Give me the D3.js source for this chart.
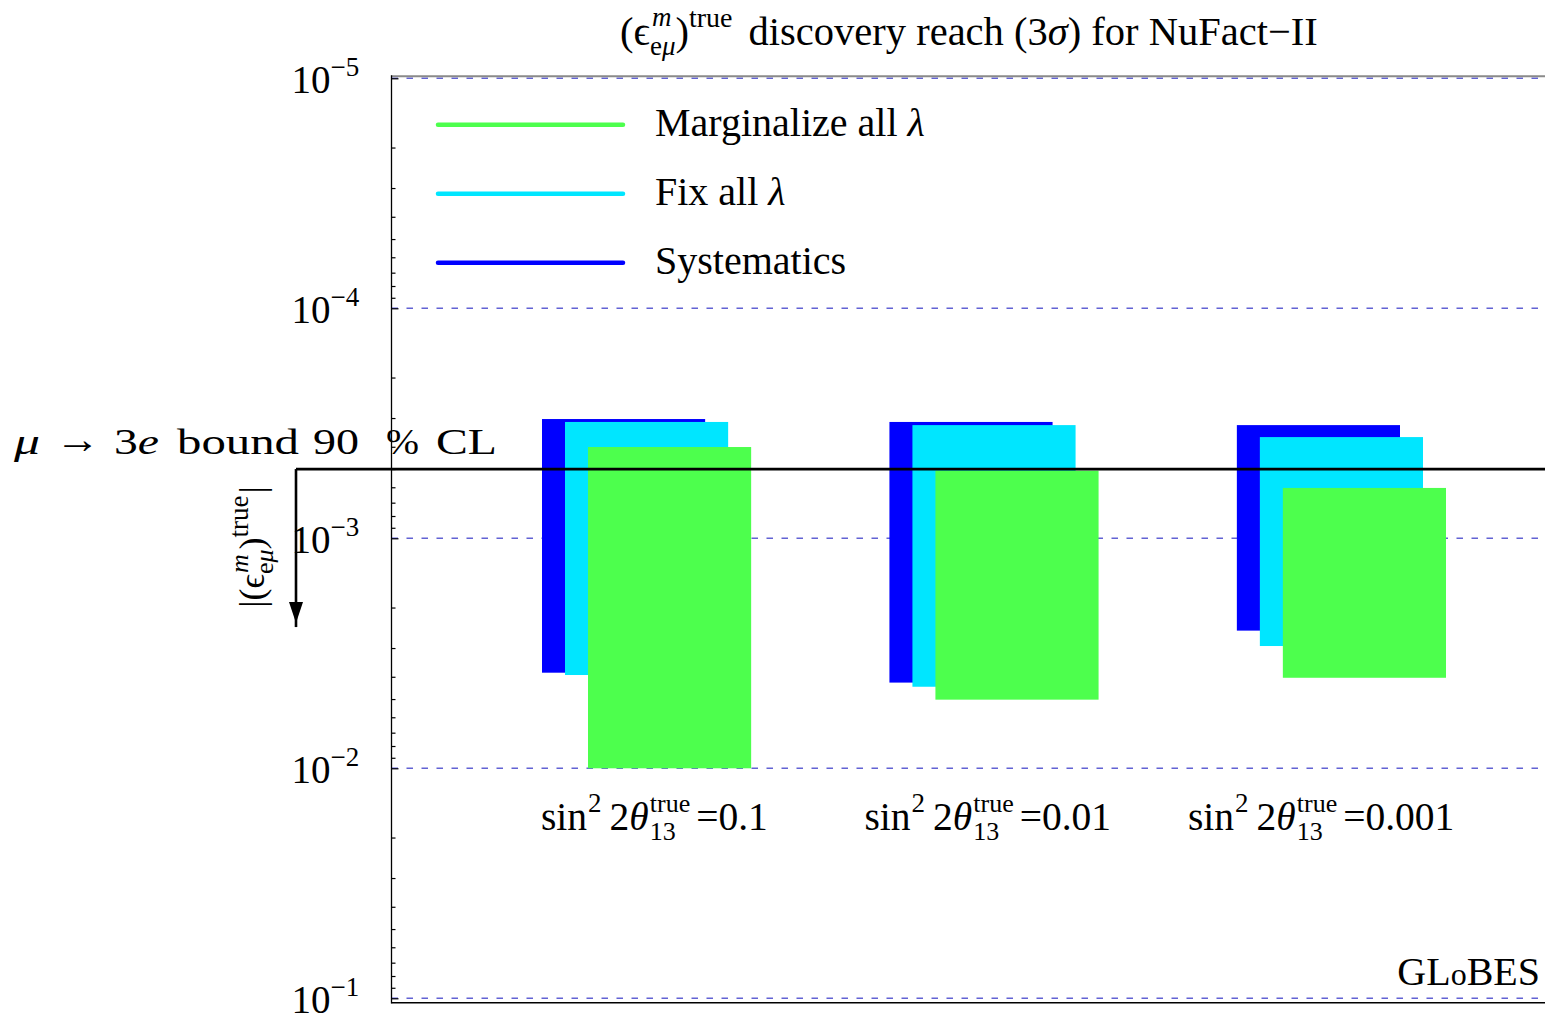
<!DOCTYPE html>
<html>
<head>
<meta charset="utf-8">
<script src="https://cdn.jsdelivr.net/npm/d3@7"></script>
<style>
  html, body { margin: 0; padding: 0; background: #fff; }
  svg { display: block; }
  text { font-family: "Liberation Serif", "Times New Roman", serif; fill: #000; white-space: pre; }
</style>
</head>
<body>
<svg id="chart" width="1545" height="1015"></svg>
<script>
// sin^2 2theta13 (true) values, one group of bars each
const categories = ["0.1", "0.01", "0.001"];
// series, back to front
const seriesNames = ["Systematics", "Fix all λ", "Marginalize all λ"];
const seriesColors = ["#0000ff", "#00e6ff", "#4dff4d"];
// discovery reach ranges |(eps^m_emu)^true| : from (smaller) to (larger)
const systematicsFrom = [3.03e-4, 3.12e-4, 3.22e-4];
const systematicsTo   = [3.84e-3, 4.24e-3, 2.52e-3];
const fixFrom         = [3.12e-4, 3.22e-4, 3.63e-4];
const fixTo           = [3.93e-3, 4.42e-3, 2.94e-3];
const marginalizeFrom = [4.01e-4, 5.08e-4, 6.04e-4];
const marginalizeTo   = [1.0e-2, 5.03e-3, 4.04e-3];
// mu -> 3e bound (90% CL)
const boundValue = 5.0e-4;
// decade ticks
const yTickExponents = [-5, -4, -3, -2, -1];

const seriesFrom = [systematicsFrom, fixFrom, marginalizeFrom];
const seriesTo = [systematicsTo, fixTo, marginalizeTo];

const svg = d3.select("#chart");
const plotLeft = 391.5, plotRight = 1545;

const y = d3.scaleLog().domain([1e-5, 1e-1]).range([78.3, 998.3]);
const frameTop = y(1e-5) - 2, frameBottom = y(1e-1) + 4.5;

const x = d3.scaleBand().domain(categories)
  .range([plotLeft + 150.5, plotLeft + 1054.5])
  .paddingInner(0.398).paddingOuter(0);
const shift = d3.scalePoint().domain(seriesNames).range([0, 46]);
const barWidth = x.bandwidth() - 46;

// small helper for math-style labels: pieces laid out left to right,
// stacked pieces (sub/superscript pairs) share one x position
function mathText(parent, x0, y0, parts, anchor, baseSize) {
  const g = parent.append("g");
  let cx = 0;
  parts.forEach(p => {
    const items = p.stack || [p];
    let w = 0;
    items.forEach(it => {
      const t = g.append("text")
        .attr("x", cx + (it.dx || 0))
        .attr("y", -(it.rise || 0))
        .attr("font-size", it.size || baseSize);
      if (it.family) t.attr("font-family", it.family);
      const segs = it.segs || [{ t: it.t, italic: it.italic }];
      segs.forEach(s => {
        const ts = t.append("tspan").text(s.t);
        if (s.italic) ts.attr("font-style", "italic");
      });
      w = Math.max(w, t.node().getComputedTextLength() + (it.dx || 0));
    });
    cx += w + (p.after || 0);
  });
  let ox = x0;
  if (anchor === "middle") ox = x0 - cx / 2;
  if (anchor === "end") ox = x0 - cx;
  g.attr("transform", `translate(${ox},${y0})`);
  return g;
}

// dashed decade grid
svg.append("g").selectAll("line").data(yTickExponents).join("line")
  .attr("x1", plotLeft).attr("x2", plotRight)
  .attr("y1", d => y(Math.pow(10, d))).attr("y2", d => y(Math.pow(10, d)))
  .attr("stroke", "#6262d4").attr("stroke-width", 1.4)
  .attr("stroke-dasharray", "6.5,8.5");

// bars
seriesNames.forEach((name, si) => {
  svg.append("g").selectAll("rect")
    .data(categories.map((c, i) => ({ c, from: seriesFrom[si][i], to: seriesTo[si][i] })))
    .join("rect")
    .attr("x", d => x(d.c) + shift(name))
    .attr("width", barWidth)
    .attr("y", d => y(d.from))
    .attr("height", d => y(d.to) - y(d.from))
    .attr("fill", seriesColors[si]);
});

// frame
svg.append("line").attr("x1", plotLeft).attr("x2", plotRight)
  .attr("y1", frameTop).attr("y2", frameTop)
  .attr("stroke", "#8a8a8a").attr("stroke-width", 2);
svg.append("line").attr("x1", plotLeft).attr("x2", plotRight)
  .attr("y1", frameBottom).attr("y2", frameBottom)
  .attr("stroke", "#000").attr("stroke-width", 1.5);
svg.append("line").attr("x1", plotLeft).attr("x2", plotLeft)
  .attr("y1", frameTop - 1).attr("y2", frameBottom + 0.75)
  .attr("stroke", "#000").attr("stroke-width", 1.3);

// ticks (inward) via d3 axes
const minorTicks = [];
for (let e = -5; e < -1; e++) for (let k = 2; k <= 9; k++) minorTicks.push(k * Math.pow(10, e));
const minorAxis = d3.axisRight(y).tickValues(minorTicks).tickSize(4).tickSizeOuter(0).tickFormat("");
const majorAxis = d3.axisRight(y).tickValues(yTickExponents.map(e => Math.pow(10, e)))
  .tickSize(7).tickSizeOuter(0).tickFormat("");
[minorAxis, majorAxis].forEach(ax => {
  const g = svg.append("g").attr("transform", `translate(${plotLeft},0)`).call(ax);
  g.select(".domain").remove();
  g.selectAll(".tick line").attr("stroke", "#000").attr("stroke-width", 1.2);
});

// tick labels 10^n
yTickExponents.forEach(e => {
  const t = svg.append("text").attr("x", plotLeft - 100).attr("y", y(Math.pow(10, e)) + 15)
    .attr("font-size", 39);
  t.append("tspan").text("10");
  t.append("tspan").attr("font-size", 27).attr("dy", -17).text("\u2212" + Math.abs(e));
});

// mu -> 3e bound line with arrow
const yb = y(boundValue);
svg.append("line").attr("x1", 296).attr("x2", plotRight).attr("y1", yb).attr("y2", yb)
  .attr("stroke", "#000").attr("stroke-width", 2.7);
svg.append("line").attr("x1", 296).attr("x2", 296).attr("y1", yb).attr("y2", yb + 158)
  .attr("stroke", "#000").attr("stroke-width", 2.6);
svg.append("path")
  .attr("d", `M${289},${yb + 133} L${303},${yb + 133} L${296},${yb + 154} Z`)
  .attr("fill", "#000");

// bound label
const boundLabel = [
  { t: "μ", italic: true, x: 14, w: 26 },
  { t: "→", x: 55, w: 45, size: 40, family: "'DejaVu Sans', sans-serif", dy: -1 },
  { segs: [{ t: "3" }, { t: "e", italic: true }], x: 114, w: 45 },
  { t: "bound", x: 177, w: 122 },
  { t: "90", x: 313, w: 46 },
  { t: "%", x: 386, w: 33 },
  { t: "CL", x: 436, w: 61 }
];
boundLabel.forEach(p => {
  const t = svg.append("text").attr("x", p.x).attr("y", yb - 15 + (p.dy || 0))
    .attr("font-family", p.family || "'DejaVu Serif', serif").attr("font-size", p.size || 35)
    .attr("textLength", p.w).attr("lengthAdjust", "spacingAndGlyphs");
  (p.segs || [{ t: p.t, italic: p.italic }]).forEach(s => {
    const ts = t.append("tspan").text(s.t);
    if (s.italic) ts.attr("font-style", "italic");
  });
});

// title
mathText(svg, 620, 45, [
  { t: "(" },
  { t: "ϵ" },
  { stack: [
      { t: "m", size: 27, rise: 19, italic: true, dx: 2 },
      { segs: [{ t: "e" }, { t: "μ", italic: true }], size: 27, rise: -10 }
    ] },
  { t: ")" },
  { t: "true", size: 28, rise: 18, after: 6 },
  { segs: [{ t: " discovery reach (3" }, { t: "σ", italic: true }, { t: ") for NuFact\u2212II" }] }
], "start", 40.5);

// y-axis title (rotated)
const yTitle = svg.append("g").attr("transform", "translate(264,547) rotate(-90)");
mathText(yTitle, 0, 0, [
  { t: "|(" },
  { t: "ϵ" },
  { stack: [
      { t: "m", size: 26, rise: 16, italic: true, dx: 1 },
      { segs: [{ t: "e" }, { t: "μ", italic: true }], size: 26, rise: -9 }
    ] },
  { t: ")" },
  { t: "true", size: 27, rise: 16, after: 2 },
  { t: "|" }
], "middle", 36);

// legend (front series first)
const legendRows = [2, 1, 0];
legendRows.forEach((si, r) => {
  const ly = 124.7 + r * 69;
  svg.append("line").attr("x1", 438).attr("x2", 623).attr("y1", ly).attr("y2", ly)
    .attr("stroke", seriesColors[si]).attr("stroke-width", 4.5).attr("stroke-linecap", "round");
  const name = seriesNames[si];
  const t = svg.append("text").attr("x", 655).attr("y", ly + 11.5).attr("font-size", 40);
  if (name.endsWith("λ")) {
    t.append("tspan").text(name.slice(0, -1));
    t.append("tspan").attr("font-style", "italic").text("λ");
  } else {
    t.text(name);
  }
});

// category labels under the groups
const labelX = d3.scalePoint().domain(categories).range([541, 1188]);
categories.forEach(c => {
  mathText(svg, labelX(c), 830, [
    { t: "sin", after: 1 },
    { t: "2", size: 27, rise: 18, after: 8 },
    { t: "2" },
    { t: "θ", italic: true, after: 1 },
    { stack: [
        { t: "true", size: 26, rise: 18 },
        { t: "13", size: 26, rise: -10 }
      ], after: 6 },
    { t: "=" + c }
  ], "start", 39.5);
});

// GLoBES tag
mathText(svg, 1540, 985, [
  { t: "GL" }, { t: "o", size: 32 }, { t: "BES" }
], "end", 40);
</script>
</body>
</html>
